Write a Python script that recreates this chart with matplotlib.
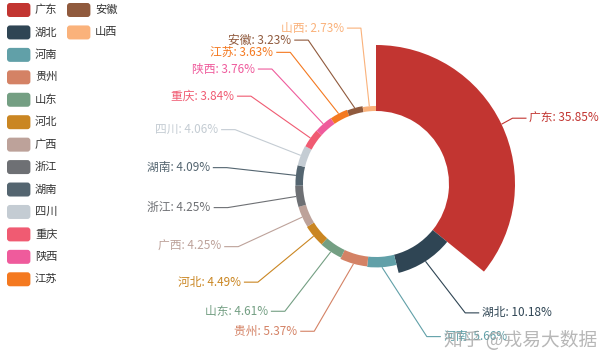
import numpy as np
import matplotlib
matplotlib.use('Agg')
import matplotlib.pyplot as plt
from matplotlib.patches import FancyBboxPatch

plt.rcParams['font.family'] = ['Noto Sans CJK SC', 'DejaVu Sans']

provinces = ['广东', '湖北', '河南', '贵州', '山东', '河北', '广西', '浙江',
             '湖南', '四川', '重庆', '陕西', '江苏', '安徽', '山西']
shares = [35.85, 10.18, 5.66, 5.37, 4.61, 4.49, 4.25, 4.25,
          4.09, 4.06, 3.84, 3.76, 3.63, 3.23, 2.73]
colors = ['#c23531', '#2f4554', '#61a0a8', '#d48265', '#749f83', '#ca8622',
          '#bda29a', '#6e7074', '#546570', '#c4ccd3', '#f05b72', '#ef5b9c',
          '#f47920', '#905a3d', '#fab27b']

W, H = 611, 364
CX, CY = 376, 184      # pie centre in pixels, y from the top
R0, R1 = 73, 139
LEN1, LEN2 = 14, 14
TEXT_H = 12
FS = 8.5


def shift_up(lst, end, delta):
	for j in range(end, -1, -1):
		if lst[j]['y'] - delta < 0:
			break
		lst[j]['y'] -= delta
		if j > 0 and lst[j]['y'] > lst[j - 1]['y'] + TEXT_H:
			break


def shift_down(lst, start, end, delta):
	for j in range(start, end):
		if lst[j]['y'] + delta > H:
			break
		lst[j]['y'] += delta
		if j > start and j + 1 < end and lst[j + 1]['y'] > lst[j]['y'] + TEXT_H:
			shift_up(lst, j, delta / 2)
			return
	shift_up(lst, end - 1, delta / 2)


def change_x(lst, is_down, side):
	last = np.inf if is_down else 0
	for it in lst:
		d = abs(it['y'] - CY)
		if d < R1 + LEN1:
			ddx = np.sqrt((R1 + LEN1 + LEN2) ** 2 - d ** 2)
		else:
			ddx = abs(it['x'] - CX)
		if is_down and ddx >= last:
			ddx = last - 10
		if not is_down and ddx <= last:
			ddx = last + 10
		it['x'] = CX + ddx * side
		last = ddx


def adjust_side(lst, side):
	# same idea as the echarts pie label layout
	lst.sort(key=lambda it: it['y'])
	n = len(lst)
	last_y = 0
	for i in range(n):
		delta = lst[i]['y'] - last_y
		if delta < 0:
			shift_down(lst, i, n, -delta)
		last_y = lst[i]['y'] + TEXT_H
	if H - last_y < 0:
		shift_up(lst, n - 1, last_y - H)
	up = [it for it in lst if it['y'] < CY]
	down = [it for it in lst if it['y'] >= CY]
	change_x(up, False, side)
	change_x(down, True, side)


fig = plt.figure(figsize=(W / 100, H / 100), dpi=100)
ax = fig.add_axes([0, 0, 1, 1])

wedges, _ = ax.pie(shares, colors=colors, startangle=90, counterclock=False,
                   center=(CX, H - CY), radius=R1,
                   wedgeprops=dict(width=R1 - R0, linewidth=0))
vmax = max(shares)
radii = [R0 + v / vmax * (R1 - R0) for v in shares]
for w, r in zip(wedges, radii):
	w.set_radius(r)
	w.set_width(r - R0)

labels = []
for i, w in enumerate(wedges):
	mid = np.deg2rad((w.theta1 + w.theta2) / 2)
	dx, dy = np.cos(mid), -np.sin(mid)
	side = -1 if dx < 0 else 1
	x2 = CX + dx * (R1 + LEN1)
	y2 = CY + dy * (R1 + LEN1)
	x3 = x2 + side * LEN2
	labels.append({'i': i, 'x': x3 + side * 5, 'y': y2, 'side': side,
	               'start': (CX + dx * radii[i], CY + dy * radii[i]),
	               'dist': x2 - x3})

adjust_side([l for l in labels if l['x'] >= CX], 1)
adjust_side([l for l in labels if l['x'] < CX], -1)

for l in labels:
	i = l['i']
	end_x = l['x'] - 3 * l['side']
	bend_x = end_x + l['dist']
	sx, sy = l['start']
	ax.plot([sx, bend_x, end_x], [H - sy, H - l['y'], H - l['y']],
	        color=colors[i], lw=0.8, solid_capstyle='butt')
	ax.text(l['x'], H - l['y'], '{0}: {1:.2f}%'.format(provinces[i], shares[i]),
	        ha='left' if l['side'] > 0 else 'right', va='center',
	        color=colors[i], fontsize=FS)

# legend, 13 rows then a second column
for i, (name, c) in enumerate(zip(provinces, colors)):
	col, row = divmod(i, 13)
	lx = 7 + col * 60
	ly = 10 + row * 22.44
	ax.add_patch(FancyBboxPatch((lx, H - ly - 7), 23.4, 14,
	                            boxstyle='round,pad=0,rounding_size=3',
	                            fc=c, ec='none'))
	ax.text(lx + 28, H - ly, name, ha='left', va='center',
	        fontsize=8.1, color='#333333')

ax.text(597, H - 340, '知乎 @戎易大数据', ha='right', va='center',
        fontsize=13.5, color='#999999', alpha=0.7)

ax.set_xlim(0, W)
ax.set_ylim(0, H)
ax.set_aspect('auto')
ax.axis('off')

plt.savefig('out.png', dpi=100)
